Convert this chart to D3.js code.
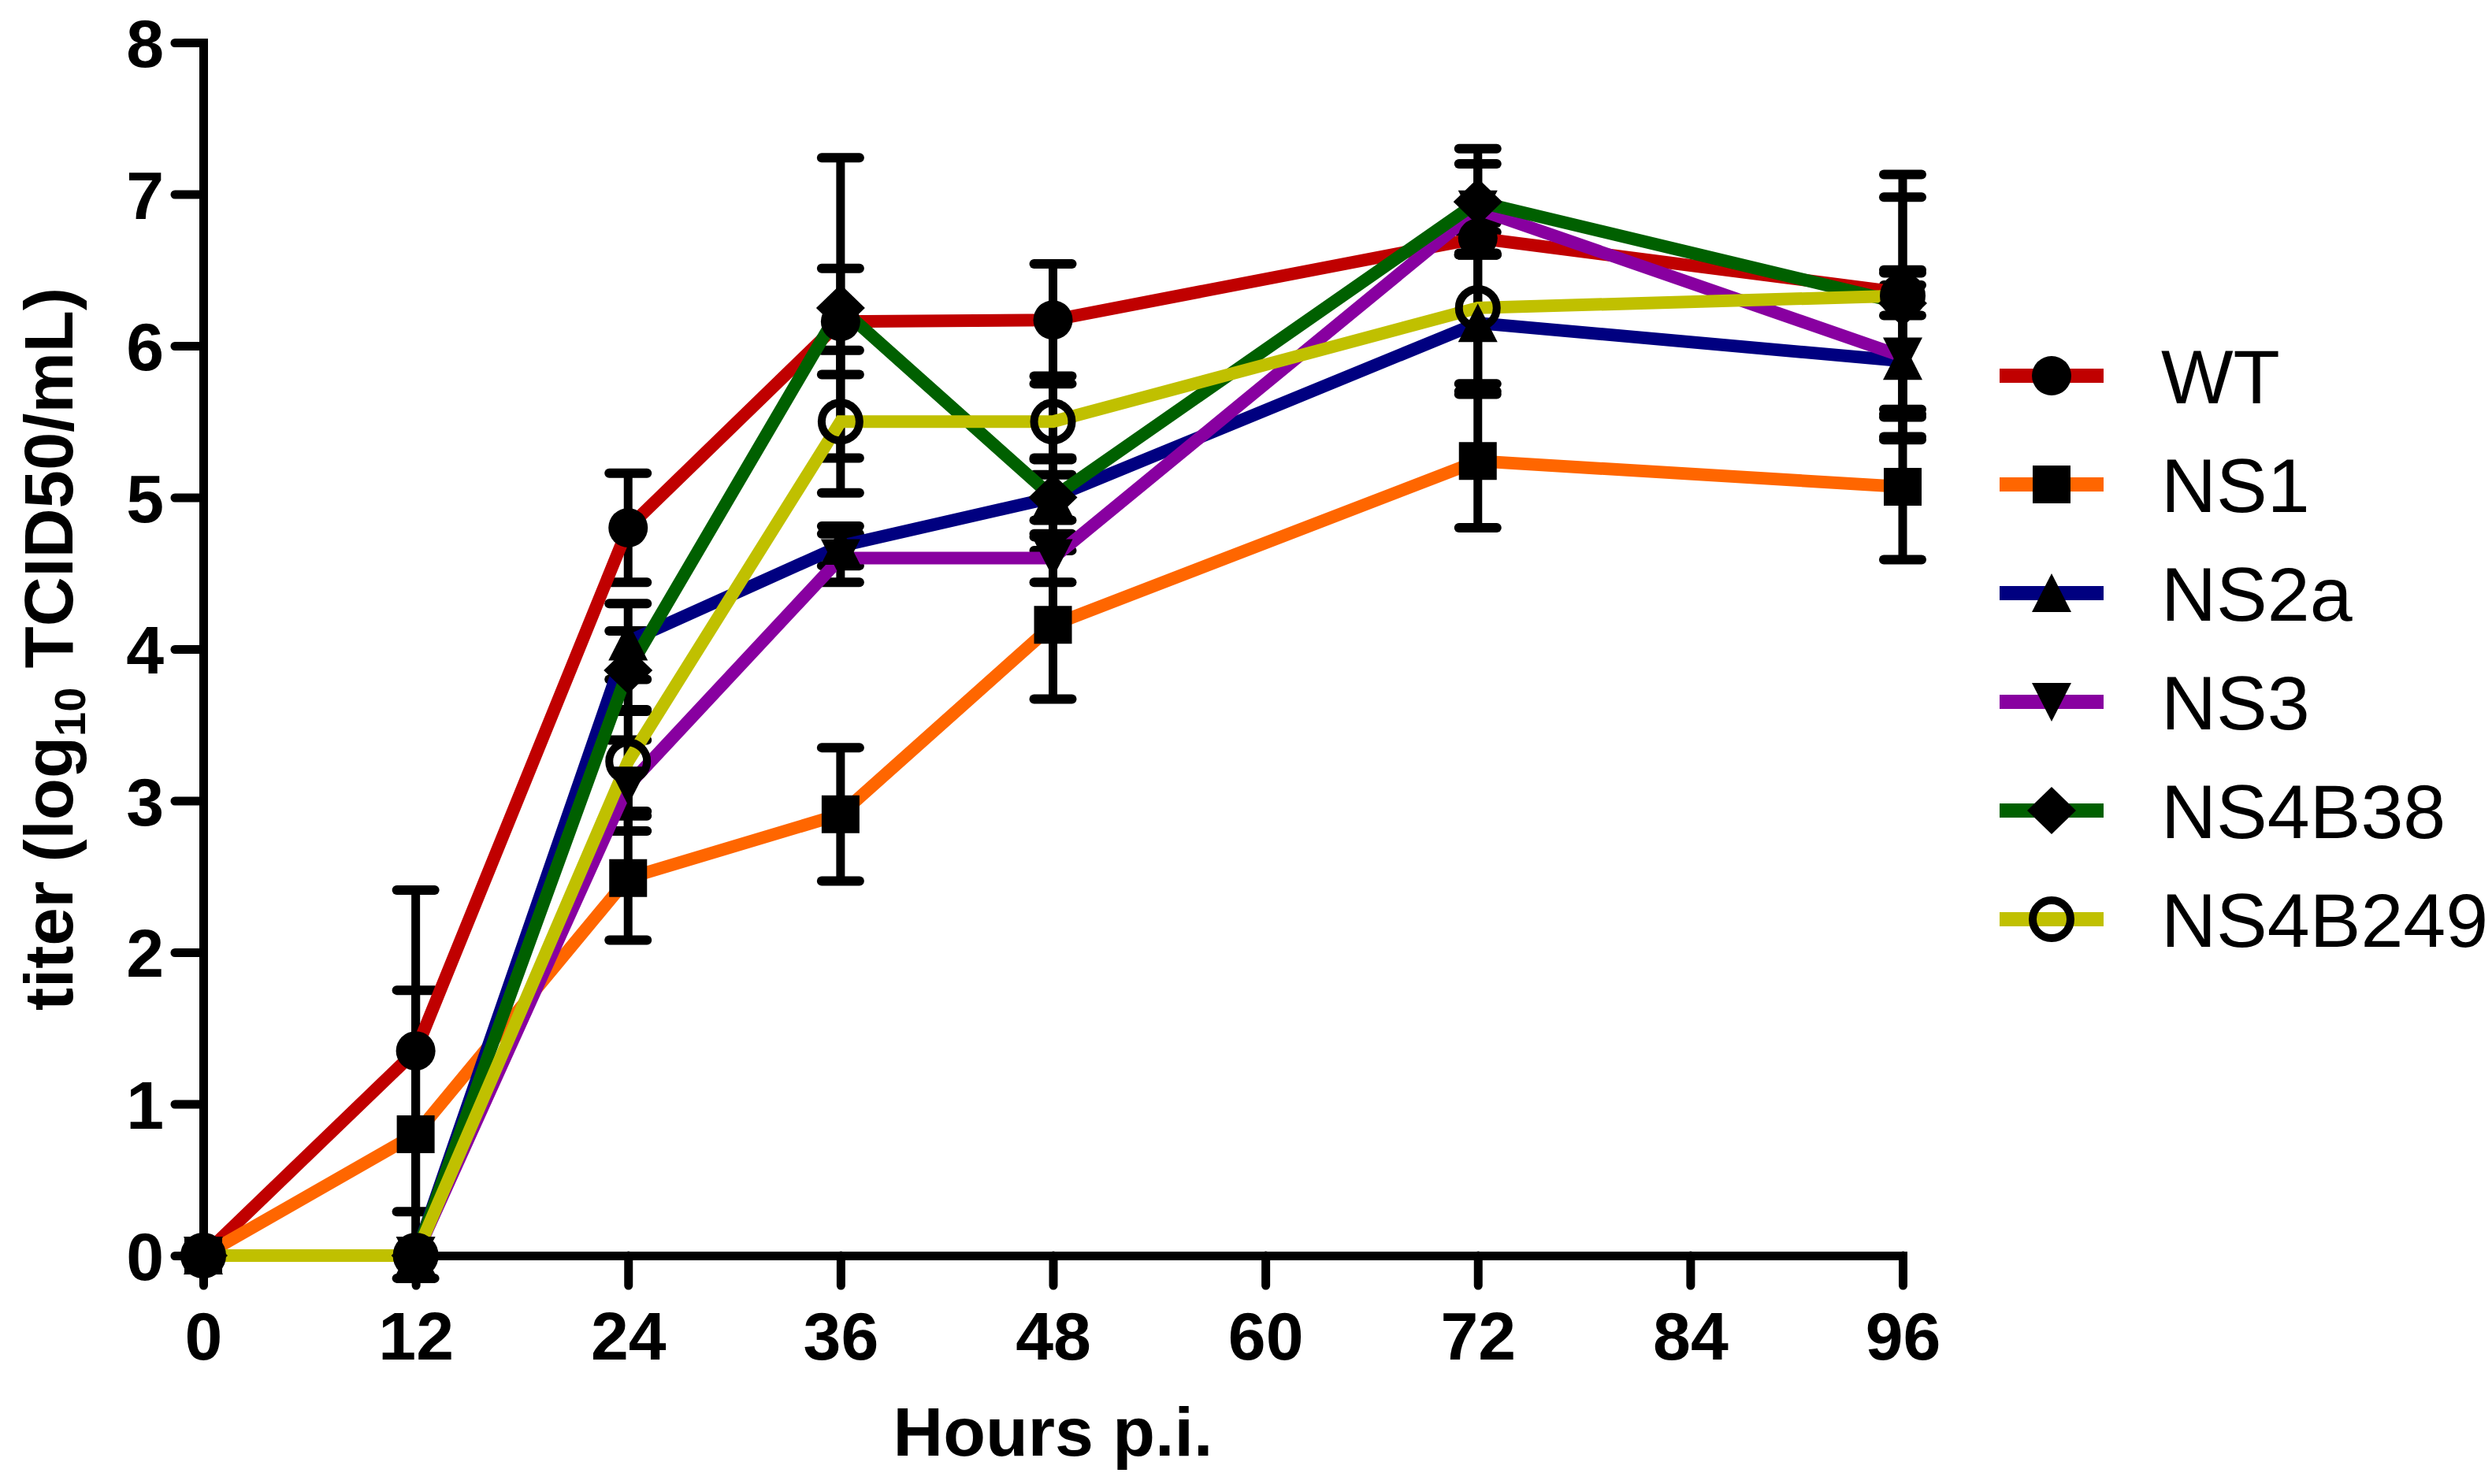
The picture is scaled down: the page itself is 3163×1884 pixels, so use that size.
<!DOCTYPE html>
<html><head><meta charset="utf-8">
<script src="https://cdn.jsdelivr.net/npm/d3@7"></script>
<style>body{margin:0;background:#fff}</style>
</head><body>
<script>
const hours = [0, 12, 24, 36, 48, 72, 96];
const seriesNames = ["WT", "NS1", "NS2a", "NS3", "NS4B38", "NS4B249"];
const seriesColors = ["#c00000", "#ff6600", "#000080", "#8800a0", "#006000", "#c0c000"];
const seriesShapes = ["circle", "square", "triangleUp", "triangleDown", "diamond", "openCircle"];
const WT      = [0, 1.35, 4.80, 6.16, 6.17, 6.71, 6.35];
const WT_sd   = [0, 1.06, 0.36, 0.35, 0.37, 0.10, 0.15];
const NS1     = [0, 0.80, 2.49, 2.91, 4.16, 5.24, 5.07];
const NS1_sd  = [0, 0.95, 0.41, 0.44, 0.49, 0.44, 0.48];
const NS2a    = [0, 0, 4.05, 4.68, 5.00, 6.15, 5.90];
const NS2a_sd = [0, 0, 0.25, 0.13, 0.15, 0.45, 0.50];
const NS3     = [0, 0, 3.10, 4.60, 4.60, 6.90, 5.93];
const NS3_sd  = [0, 0, 0.30, 0.16, 0.16, 0.30, 0.55];
const NS4B38    = [0, 0, 3.86, 6.25, 5.00, 6.95, 6.28];
const NS4B38_sd = [0, 0, 0.26, 0.99, 0.26, 0.35, 0.70];
const NS4B249    = [0, 0, 3.26, 5.50, 5.50, 6.25, 6.33];
const NS4B249_sd = [0, 0, 0.33, 0.47, 0.25, 0.50, 0.80];
const xTicks = [0, 12, 24, 36, 48, 60, 72, 84, 96];
const yTicks = [0, 1, 2, 3, 4, 5, 6, 7, 8];

const means = [WT, NS1, NS2a, NS3, NS4B38, NS4B249];
const sds = [WT_sd, NS1_sd, NS2a_sd, NS3_sd, NS4B38_sd, NS4B249_sd];
const series = seriesNames.map((n, i) => ({
  name: n, color: seriesColors[i], shape: seriesShapes[i],
  pts: hours.map((h, j) => ({h, v: means[i][j], sd: sds[i][j]}))
}));

const W = 3163, H = 1884;
const svg = d3.select("body").append("svg").attr("width", W).attr("height", H)
  .style("font-family", "'Liberation Sans', Arial, sans-serif");
svg.append("rect").attr("width", W).attr("height", H).attr("fill", "#fff");

const x = d3.scaleLinear().domain([0, 96]).range([258, 2415]);
const y = d3.scaleLinear().domain([0, 8]).range([1594, 54]);

// axes
const axW = 11;
const gx = svg.append("g").attr("transform", `translate(0,${y(0)})`)
  .call(d3.axisBottom(x).tickValues(xTicks).tickSize(38).tickPadding(32).tickSizeOuter(0));
const gy = svg.append("g").attr("transform", `translate(${x(0)},0)`)
  .call(d3.axisLeft(y).tickValues(yTicks).tickSize(36).tickPadding(14).tickSizeOuter(0));
[gx, gy].forEach(g => {
  g.select(".domain").attr("stroke", "#000").attr("stroke-width", axW).attr("stroke-linecap", "square");
  g.selectAll(".tick line").attr("stroke", "#000").attr("stroke-width", axW).attr("stroke-linecap", "round");
  g.selectAll(".tick text").attr("fill", "#000").attr("font-size", 86).attr("font-weight", "bold");
});
gy.selectAll(".tick text").attr("dy", "0.36em");
gx.selectAll(".tick text").attr("dy", "0.72em");

// axis titles
svg.append("text").attr("x", x(48)).attr("y", 1848).attr("text-anchor", "middle")
  .attr("font-size", 88).attr("font-weight", "bold").text("Hours p.i.");
const yl = svg.append("text").attr("transform", `translate(92,${(y(0)+y(8))/2}) rotate(-90)`)
  .attr("text-anchor", "middle").attr("font-size", 87).attr("font-weight", "bold");
yl.append("tspan").text("titer (log");
yl.append("tspan").attr("font-size", 56).attr("dy", 16).text("10");
yl.append("tspan").attr("dy", -16).text(" TCID50/mL)");

function shapePath(shape, cx, cy) {
  const p = d3.path();
  if (shape === "circle" || shape === "openCircle") {
    const r = shape === "circle" ? 25 : 24;
    p.arc(cx, cy, r, 0, 2 * Math.PI);
  } else if (shape === "square") {
    p.rect(cx - 24, cy - 24, 48, 48);
  } else if (shape === "triangleUp") {
    p.moveTo(cx, cy - 25); p.lineTo(cx + 25, cy + 24); p.lineTo(cx - 25, cy + 24); p.closePath();
  } else if (shape === "triangleDown") {
    p.moveTo(cx, cy + 25); p.lineTo(cx + 25, cy - 24); p.lineTo(cx - 25, cy - 24); p.closePath();
  } else if (shape === "diamond") {
    p.moveTo(cx, cy - 30); p.lineTo(cx + 31, cy); p.lineTo(cx, cy + 30); p.lineTo(cx - 31, cy); p.closePath();
  }
  return p.toString();
}
function drawMarker(g, shape, cx, cy) {
  const open = shape === "openCircle";
  g.append("path").attr("d", shapePath(shape, cx, cy))
    .attr("fill", open ? "none" : "#000")
    .attr("stroke", "#000").attr("stroke-width", open ? 10 : 0);
}

// error bars
const eg = svg.append("g");
series.forEach(s => {
  s.pts.filter(d => d.sd > 0).forEach(d => {
    const cx = x(d.h), y1 = y(d.v + d.sd), y2 = y(d.v - d.sd);
    eg.append("line").attr("x1", cx).attr("x2", cx).attr("y1", y1).attr("y2", y2)
      .attr("stroke", "#000").attr("stroke-width", 11);
    [y1, y2].forEach(yy => eg.append("line").attr("x1", cx - 24).attr("x2", cx + 24)
      .attr("y1", yy).attr("y2", yy).attr("stroke", "#000").attr("stroke-width", 12)
      .attr("stroke-linecap", "round"));
  });
});

// lines
const line = d3.line().x(d => x(d.h)).y(d => y(d.v));
const lg = svg.append("g");
series.forEach(s => {
  lg.append("path").datum(s.pts).attr("d", line).attr("fill", "none")
    .attr("stroke", s.color).attr("stroke-width", 16).attr("stroke-linejoin", "miter");
});

// markers
const mg = svg.append("g");
series.forEach(s => s.pts.forEach(d => drawMarker(mg, s.shape, x(d.h), y(d.v))));

// legend
const leg = svg.append("g");
const legY = d3.scalePoint().domain(seriesNames).range([477, 1167]);
series.forEach(s => {
  const yy = legY(s.name);
  leg.append("line").attr("x1", 2538).attr("x2", 2670).attr("y1", yy).attr("y2", yy)
    .attr("stroke", s.color).attr("stroke-width", 18);
  drawMarker(leg, s.shape, 2604, yy);
  leg.append("text").attr("x", 2743).attr("y", yy + 35).attr("font-size", 97)
    .attr("fill", "#000").text(s.name);
});
</script>
</body></html>
